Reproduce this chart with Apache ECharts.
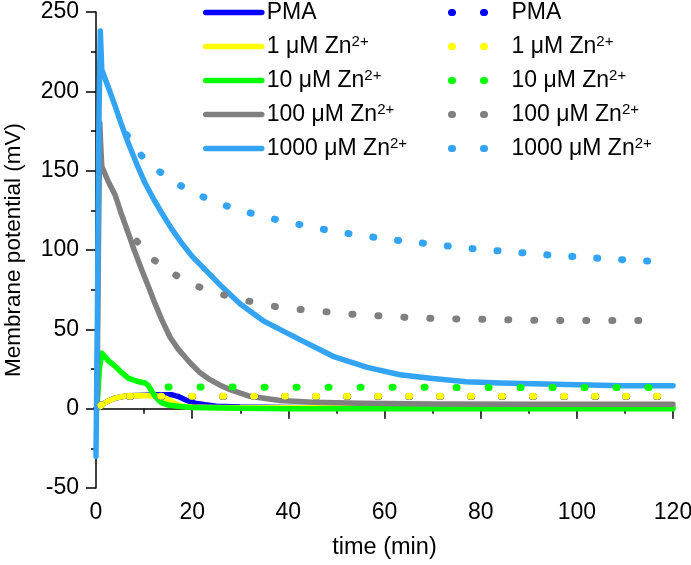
<!DOCTYPE html>
<html><head><meta charset="utf-8">
<script src="https://cdn.jsdelivr.net/npm/echarts@6/dist/echarts.min.js"></script>
<style>html,body{margin:0;padding:0;background:#fff}#c{width:691px;height:565px}</style>
</head><body><div id="c"></div>
<script>
// ---- legend labels ----
const seriesLabels = ['PMA', '1 μM Zn2+', '10 μM Zn2+', '100 μM Zn2+', '1000 μM Zn2+'];

// ---- solid curves (time in min, potential in mV) ----
const pmaSolidT = [0, 1, 2.5, 4, 6.7, 10, 13, 15.7, 17, 17.8, 19, 20.6, 22.7, 25, 30, 40, 60, 80, 100, 120];
const pmaSolidV = [0, 2.3, 4.8, 6.7, 8.2, 8.5, 8.7, 8.8, 7.8, 6.7, 5, 3.5, 2.5, 1.6, 1, 0.7, 0.5, 0.5, 0.5, 0.5];

const zn1SolidT = [0.3, 1.2, 2.5, 4, 5.5, 6.7, 9, 12.3, 13.5, 14.4, 15.5, 16.5, 17.8, 20, 25, 30, 40, 60, 80, 100, 120];
const zn1SolidV = [0, 2.5, 4.8, 6.7, 7.7, 8.2, 8.3, 8.2, 7.6, 6.7, 5, 3, 1.5, 1, 0.8, 0.6, 0.5, 0.5, 0.5, 0.5, 0.5];

const zn10SolidT = [0.2, 0.7, 1.2, 1.6, 2.5, 4, 5.3, 6.7, 8.5, 10.2, 10.9, 11.6, 12.3, 13, 13.7, 15, 17.1, 20, 22.7, 30, 40, 60, 80, 100, 120];
const zn10SolidV = [0, 25, 35, 34, 30.5, 26.7, 22.8, 19.3, 17.3, 16.2, 14.5, 11, 7.8, 5.5, 3.6, 2.3, 1.5, 0.8, 0.5, 0.2, 0, 0, 0, 0, 0];

const zn100SolidT = [0.2, 0.5, 0.8, 0.95, 1.2, 2.5, 4, 5.3, 6.7, 8, 9.5, 10.9, 12.3, 13.7, 15.4, 17.1, 19.6, 21.5, 23.7, 25.8, 27.9, 32, 38.3, 45, 55, 70, 90, 120];
const zn100SolidV = [0, 100, 180, 168, 152.7, 143.5, 134.5, 122.5, 110.7, 99.5, 87.6, 77, 66, 56, 45, 37.5, 28.8, 23, 18.3, 14.8, 12, 7.8, 5.2, 4, 3.4, 3, 2.8, 2.8];

const zn1000SolidT = [0, 0.3, 0.6, 0.9, 1.05, 1.2, 2.5, 4, 5.3, 6.7, 8.5, 10.2, 12, 13.7, 15.7, 17.8, 20, 22.7, 26.1, 30, 35, 42.4, 49.3, 56.4, 63.2, 70, 77, 84, 91, 100, 110, 120];
const zn1000SolidV = [-30, 60, 180, 238, 226, 213.6, 203, 190.5, 179, 167.4, 154, 142.2, 132, 123.3, 113.5, 104.4, 96, 87.6, 77.1, 66, 55, 43.5, 33, 26, 21.4, 19, 17, 16.2, 15.7, 15, 14.5, 14.5];

// ---- dotted curves ----
const pmaDotT = [1, 3, 5.7, 12.8, 30, 50, 70, 90, 110, 118];
const pmaDotV = [2, 6, 7.6, 7.6, 7.6, 7.6, 7.6, 7.6, 7.6, 7.6];

const zn1DotT = [1, 3, 5.7, 12.7, 30, 50, 70, 90, 110, 118];
const zn1DotV = [2, 6, 7.8, 7.8, 7.8, 7.8, 7.8, 7.8, 7.8, 7.8];

const zn10DotT = [15, 30, 45, 60, 75, 90, 105, 118];
const zn10DotV = [13.7, 13.6, 13.5, 13.5, 13.4, 13.4, 13.4, 13.4];

const zn100DotT = [8.5, 11.9, 16.4, 20.2, 25, 30, 35, 40, 43.1, 46.8, 52.3, 57.3, 62.5, 71.5, 81.7, 90.6, 103.4, 118];
const zn100DotV = [105.5, 94, 84.5, 78, 73, 69, 65.5, 63, 62.4, 61.4, 59.7, 58.8, 57.8, 56.7, 56.3, 55.7, 55.5, 55.5];

const zn1000DotT = [6.4, 9.5, 12.5, 16.1, 20.1, 24.5, 28.6, 32.7, 37, 42.4, 46.4, 51, 55.8, 60.7, 64.6, 69.5, 74.9, 79.7, 83.2, 88.9, 94, 99.3, 101.9, 106.8, 112.1, 118.5];
const zn1000DotV = [172.6, 159.4, 151, 143, 136.5, 130.4, 126.4, 122.8, 119.5, 116, 113.5, 111, 109, 106.7, 105.5, 103.8, 101.9, 100.4, 99.6, 98.2, 96.9, 95.8, 95.4, 94.3, 93.5, 92.5];

// ---- axes ----
const xMin = 0, xMax = 120, xStep = 20;
const yMin = -50, yMax = 250, yStep = 50;

const colors = ['#0000FF', '#FFFF00', '#00FF00', '#808080', '#33A3F4'];
const solidSets = [[pmaSolidT, pmaSolidV], [zn1SolidT, zn1SolidV], [zn10SolidT, zn10SolidV], [zn100SolidT, zn100SolidV], [zn1000SolidT, zn1000SolidV]];
const dotSets = [[pmaDotT, pmaDotV], [zn1DotT, zn1DotV], [zn10DotT, zn10DotV], [zn100DotT, zn100DotV], [zn1000DotT, zn1000DotV]];
const dotGaps = [30, 30, 31, 25, 24];

function zip(t, v) { return t.map((x, i) => [x, v[i]]); }

const series = [];
solidSets.forEach((s, i) => {
  series.push({
    name: seriesLabels[i] + '#L', type: 'line', data: zip(s[0], s[1]),
    symbol: 'none', smooth: false, z: 2 + i,
    lineStyle: { color: colors[i], width: 5.5, cap: 'round', join: 'round' },
    itemStyle: { color: colors[i] }
  });
});
dotSets.forEach((s, i) => {
  series.push({
    name: seriesLabels[i] + '#D', type: 'line', data: zip(s[0], s[1]),
    symbol: 'none', smooth: false, z: 10 + i,
    lineStyle: { color: colors[i], width: 7, type: [1, dotGaps[i]], cap: 'round', join: 'round' },
    itemStyle: { color: colors[i] }
  });
});

const FONT = 'Liberation Sans, Arial, sans-serif';
const NARROW = 'Liberation Sans Narrow, Arial Narrow, Liberation Sans, sans-serif';
function legendFmt(name) {
  const base = name.split('#')[0];
  if (base.endsWith('2+')) return '{t|' + base.slice(0, -2) + '}{s|2+}';
  return '{t|' + base + '}';
}
const legendRich = {
  t: { fontSize: 23, fontFamily: FONT, color: '#000', lineHeight: 24 },
  s: { fontSize: 15, fontFamily: FONT, color: '#000', verticalAlign: 'top', lineHeight: 15 }
};

const option = {
  animation: false,
  backgroundColor: '#fff',
  grid: { left: 96, right: 18, top: 12, bottom: 77, containLabel: false, outerBoundsMode: 'none' },
  legend: [
    {
      orient: 'vertical', left: 203, top: 1, padding: 0, itemWidth: 56, itemHeight: 24, itemGap: 10.5,
      selectedMode: false, formatter: legendFmt,
      textStyle: { rich: legendRich },
      itemStyle: { opacity: 0 },
      lineStyle: { width: 5.5, cap: 'round' },
      data: seriesLabels.map(l => ({ name: l + '#L' }))
    },
    {
      orient: 'vertical', left: 448, top: 1, padding: 0, itemWidth: 55, itemHeight: 24, itemGap: 10.5,
      selectedMode: false, formatter: legendFmt,
      textStyle: { rich: legendRich },
      itemStyle: { opacity: 0 },
      lineStyle: { width: 7, cap: 'round', type: [1, 31] },
      data: seriesLabels.map(l => ({ name: l + '#D' }))
    }
  ],
  xAxis: {
    type: 'value', min: xMin, max: xMax, interval: xStep,
    name: 'time (min)', nameLocation: 'middle', nameGap: 48,
    nameTextStyle: { fontSize: 23.5, fontFamily: FONT, color: '#000' },
    axisLine: { lineStyle: { color: '#000', width: 1.5 } },
    axisTick: { inside: false, length: 10, lineStyle: { color: '#000', width: 1.5 } },
    minorTick: { show: true, splitNumber: 2, length: 5, lineStyle: { color: '#000', width: 1.5 } },
    axisLabel: { fontSize: 23, fontFamily: NARROW, color: '#000', margin: 13 },
    splitLine: { show: false }
  },
  yAxis: {
    type: 'value', min: yMin, max: yMax, interval: yStep,
    name: 'Membrane potential (mV)', nameLocation: 'middle', nameGap: 71, nameRotate: 90,
    nameTextStyle: { fontSize: 22.5, fontFamily: FONT, color: '#000' },
    axisLine: { show: true, lineStyle: { color: '#000', width: 1.5 } },
    axisTick: { show: true, inside: false, length: 10, lineStyle: { color: '#000', width: 1.5 } },
    minorTick: { show: true, splitNumber: 2, length: 5, lineStyle: { color: '#000', width: 1.5 } },
    axisLabel: { fontSize: 23, fontFamily: NARROW, color: '#000', margin: 17 },
    splitLine: { show: false }
  },
  series: series
};

const chart = echarts.init(document.getElementById('c'), null, { renderer: 'canvas' });
chart.setOption(option);
</script>
</body></html>
